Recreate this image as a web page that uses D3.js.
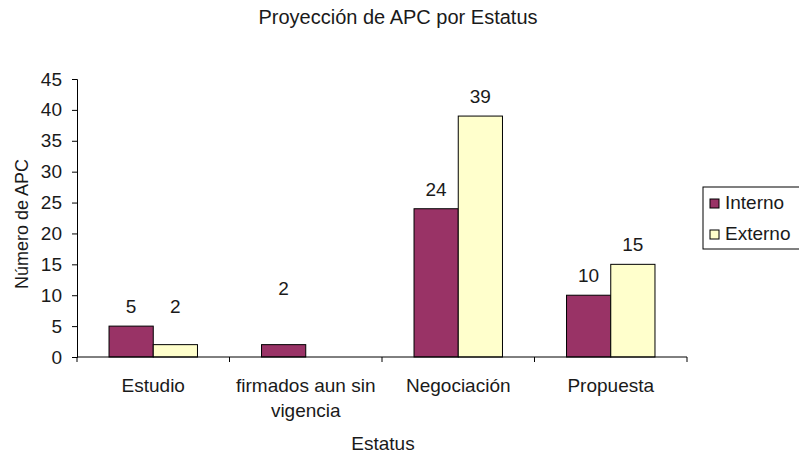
<!DOCTYPE html>
<html>
<head>
<meta charset="utf-8">
<script src="https://cdn.jsdelivr.net/npm/d3@7"></script>
<style>
  html, body { margin: 0; padding: 0; background: #fff; }
  svg { display: block; font-family: "Liberation Sans", Arial, sans-serif; }
</style>
</head>
<body>
<svg id="chart" width="799" height="455"></svg>
<script>
// Chart data
const categories = ["Estudio", "firmados aun sin vigencia", "Negociación", "Propuesta"];
const seriesNames = ["Interno", "Externo"];
const interno = [5, 2, 24, 10];
const externo = [2, 0, 39, 15];
const yTicks = [0, 5, 10, 15, 20, 25, 30, 35, 40, 45];

const colors = { Interno: "#993366", Externo: "#FFFFCC" };
const textColor = "#1a1a1a";
const fontSize = 19;

const svg = d3.select("#chart");
const margin = { left: 77, right: 112, top: 79, bottom: 98 };
const W = 799, H = 455;
const plotW = W - margin.left - margin.right;
const plotH = H - margin.top - margin.bottom;

const g = svg.append("g").attr("transform", `translate(${margin.left},${margin.top})`);

const x0 = d3.scaleBand().domain(categories).range([0, plotW]).paddingInner(0.42).paddingOuter(0.21);
const x1 = d3.scaleBand().domain(seriesNames).range([0, x0.bandwidth()]);
const y = d3.scaleLinear().domain([0, 45]).range([plotH, 0]);

const rows = categories.map((c, i) => ({ cat: c, Interno: interno[i], Externo: externo[i] }));

// Bars
const groups = g.selectAll("g.cat").data(rows).join("g")
  .attr("class", "cat")
  .attr("transform", d => `translate(${x0(d.cat)},0)`);

groups.selectAll("rect")
  .data(d => seriesNames.map(s => ({ s, v: d[s] })).filter(e => e.v > 0))
  .join("rect")
  .attr("x", d => x1(d.s))
  .attr("y", d => y(d.v))
  .attr("width", x1.bandwidth())
  .attr("height", d => y(0) - y(d.v))
  .attr("fill", d => colors[d.s])
  .attr("stroke", "#000")
  .attr("stroke-width", 1);

// Value labels; short bars carry their labels at a common raised level
const labelFloor = { "Estudio": 5, "firmados aun sin vigencia": 8 };
groups.selectAll("text.val")
  .data(d => seriesNames.map(s => ({ s, v: d[s], cat: d.cat })).filter(e => e.v > 0))
  .join("text")
  .attr("class", "val")
  .attr("x", d => x1(d.s) + x1.bandwidth() / 2)
  .attr("y", d => y(Math.max(d.v, labelFloor[d.cat] || 0)) - 13)
  .attr("text-anchor", "middle")
  .attr("font-size", fontSize)
  .attr("fill", textColor)
  .text(d => d.v);

// Y axis
const yAxis = g.append("g")
  .call(d3.axisLeft(y).tickValues(yTicks).tickSize(5).tickPadding(10));
yAxis.select(".domain").attr("stroke", "#000");
yAxis.selectAll(".tick line").attr("stroke", "#000");
yAxis.selectAll(".tick text").attr("font-size", fontSize).attr("fill", textColor)
  .attr("font-family", "Liberation Sans, Arial, sans-serif");

// X axis with tick marks at category boundaries
const xAxisG = g.append("g").attr("transform", `translate(0,${plotH})`);
xAxisG.append("line").attr("x1", 0).attr("x2", plotW).attr("y1", 0).attr("y2", 0).attr("stroke", "#000");
const step = plotW / categories.length;
xAxisG.selectAll("line.tk").data(d3.range(categories.length + 1)).join("line")
  .attr("class", "tk")
  .attr("x1", i => i * step).attr("x2", i => i * step)
  .attr("y1", 0).attr("y2", 5).attr("stroke", "#000");

// Category labels, wrapped to fit the band
const wrapLines = { "firmados aun sin vigencia": ["firmados aun sin", "vigencia"] };
xAxisG.selectAll("text.cat").data(categories).join("text")
  .attr("class", "cat")
  .attr("text-anchor", "middle")
  .attr("font-size", fontSize)
  .attr("fill", textColor)
  .attr("transform", d => `translate(${x0(d) + x0.bandwidth() / 2},35)`)
  .each(function (d) {
    const lines = wrapLines[d] || [d];
    d3.select(this).selectAll("tspan").data(lines).join("tspan")
      .attr("x", 0).attr("dy", (l, i) => i === 0 ? 0 : 25).text(l => l);
  });

// Titles
svg.append("text").attr("x", 398).attr("y", 24).attr("text-anchor", "middle")
  .attr("font-size", 20).attr("fill", textColor).text("Proyección de APC por Estatus");
svg.append("text").attr("x", 383).attr("y", 450).attr("text-anchor", "middle")
  .attr("font-size", fontSize).attr("fill", textColor).text("Estatus");
svg.append("text")
  .attr("transform", `translate(28,224) rotate(-90)`)
  .attr("text-anchor", "middle").attr("font-size", 18).attr("fill", textColor)
  .text("Número de APC");

// Legend
const leg = svg.append("g").attr("transform", "translate(703,187)");
leg.append("rect").attr("width", 110).attr("height", 62)
  .attr("fill", "#fff").attr("stroke", "#000");
seriesNames.forEach((s, i) => {
  const row = leg.append("g").attr("transform", `translate(7,${12 + i * 31})`);
  row.append("rect").attr("width", 9).attr("height", 9)
    .attr("fill", colors[s]).attr("stroke", "#000");
  row.append("text").attr("x", 15).attr("y", 10).attr("font-size", fontSize)
    .attr("fill", textColor).text(s);
});
</script>
</body>
</html>
